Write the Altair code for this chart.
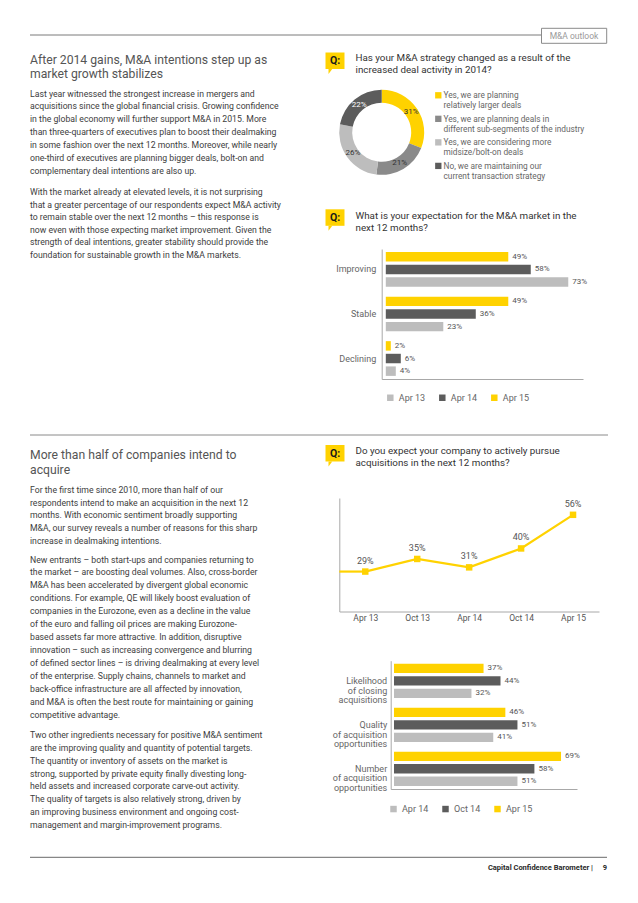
import altair as alt
import pandas as pd

W, H = 622, 887
OX, OY = 8, 8


def px(x):
    return x - OX


def py(y):
    return y - OY


FONT = "Roboto"
YELLOW = "#FFD200"
DARK = "#5C5C5C"
LIGHT = "#BDBDBD"
MID = "#8A8A8A"
AXIS = "#A8A8A8"
TEXT = "#3D3D3D"
HEAD = "#555555"

# ---------------- data ----------------
donut_answers = [
    "Yes, we are planning\nrelatively larger deals",
    "Yes, we are planning deals in\ndifferent sub-segments of the industry",
    "Yes, we are considering more\nmidsize/bolt-on deals",
    "No, we are maintaining our\ncurrent transaction strategy",
]
donut_shares = [31, 21, 26, 22]
donut_colors = [YELLOW, MID, LIGHT, DARK]

market_categories = ["Improving", "Stable", "Declining"]
market_series = ["Apr 13", "Apr 14", "Apr 15"]
market_apr13 = [73, 23, 4]
market_apr14 = [58, 36, 6]
market_apr15 = [49, 49, 2]

acq_periods = ["Apr 13", "Oct 13", "Apr 14", "Oct 14", "Apr 15"]
acq_shares = [29, 35, 31, 40, 56]

driver_categories = [
    "Likelihood\nof closing\nacquisitions",
    "Quality\nof acquisition\nopportunities",
    "Number\nof acquisition\nopportunities",
]
driver_series = ["Apr 14", "Oct 14", "Apr 15"]
driver_apr14 = [32, 41, 51]
driver_oct14 = [44, 51, 58]
driver_apr15 = [37, 46, 69]

heading_1 = ["After 2014 gains, M&A intentions step up as", "market growth stabilizes"]
para_1 = [
    "Last year witnessed the strongest increase in mergers and",
    "acquisitions since the global financial crisis. Growing confidence",
    "in the global economy will further support M&A in 2015. More",
    "than three-quarters of executives plan to boost their dealmaking",
    "in some fashion over the next 12 months. Moreover, while nearly",
    "one-third of executives are planning bigger deals, bolt-on and",
    "complementary deal intentions are also up.",
]
para_2 = [
    "With the market already at elevated levels, it is not surprising",
    "that a greater percentage of our respondents expect M&A activity",
    "to remain stable over the next 12 months \u2013 this response is",
    "now even with those expecting market improvement. Given the",
    "strength of deal intentions, greater stability should provide the",
    "foundation for sustainable growth in the M&A markets.",
]
heading_2 = ["More than half of companies intend to", "acquire"]
para_3 = [
    "For the first time since 2010, more than half of our",
    "respondents intend to make an acquisition in the next 12",
    "months. With economic sentiment broadly supporting",
    "M&A, our survey reveals a number of reasons for this sharp",
    "increase in dealmaking intentions.",
]
para_4 = [
    "New entrants \u2013 both start-ups and companies returning to",
    "the market \u2013 are boosting deal volumes. Also, cross-border",
    "M&A has been accelerated by divergent global economic",
    "conditions. For example, QE will likely boost evaluation of",
    "companies in the Eurozone, even as a decline in the value",
    "of the euro and falling oil prices are making Eurozone-",
    "based assets far more attractive. In addition, disruptive",
    "innovation \u2013 such as increasing convergence and blurring",
    "of defined sector lines \u2013 is driving dealmaking at every level",
    "of the enterprise. Supply chains, channels to market and",
    "back-office infrastructure are all affected by innovation,",
    "and M&A is often the best route for maintaining or gaining",
    "competitive advantage.",
]
para_5 = [
    "Two other ingredients necessary for positive M&A sentiment",
    "are the improving quality and quantity of potential targets.",
    "The quantity or inventory of assets on the market is",
    "strong, supported by private equity finally divesting long-",
    "held assets and increased corporate carve-out activity.",
    "The quality of targets is also relatively strong, driven by",
    "an improving business environment and ongoing cost-",
    "management and margin-improvement programs.",
]
q_1 = ["Has your M&A strategy changed as a result of the", "increased deal activity in 2014?"]
q_2 = ["What is your expectation for the M&A market in the", "next 12 months?"]
q_3 = ["Do you expect your company to actively pursue", "acquisitions in the next 12 months?"]
section_tag = "M&A outlook"
footer_title = "Capital Confidence Barometer  |"
footer_page = "9"

one = pd.DataFrame({"k": [0]})


# ---------------- helpers ----------------
def text_block(lines, x, y, size, color, lh, weight="normal", align="left", baseline="alphabetic"):
    df = pd.DataFrame({"t": ["\n".join(lines)]})
    return alt.Chart(df).mark_text(
        align=align, baseline=baseline, fontSize=size, color=color, lineBreak="\n",
        lineHeight=lh, fontWeight=weight, font=FONT,
    ).encode(x=alt.value(px(x)), y=alt.value(py(y)), text="t:N")


def hline(x0, x1, y, color, w=1.0):
    return alt.Chart(one).mark_rule(color=color, strokeWidth=w).encode(
        x=alt.value(px(x0)), x2=alt.value(px(x1)), y=alt.value(py(y))
    )


def q_box(top, lines, text_y):
    box = alt.Chart(one).mark_rect(color=YELLOW).encode(
        x=alt.value(px(325.5)), x2=alt.value(px(344.5)),
        y=alt.value(py(top)), y2=alt.value(py(top + 16.5)),
    )
    tail = alt.Chart(one).mark_point(
        shape="M-1,-1L0.5,-1L-1,1Z", filled=True, color=YELLOW, size=25, opacity=1, strokeWidth=0
    ).encode(x=alt.value(px(331)), y=alt.value(py(top + 19)))
    q = text_block(["Q:"], 335, top + 8.7, 10.5, "#1a1a1a", 12, weight="bold", align="center", baseline="middle")
    t = text_block(lines, 355.5, text_y, 9.8, "#333333", 11.8)
    return [box, tail, q, t]


def grouped_bars(cats, series, cols, colors, bar_order, xdom, xr, yr, axis_x, axis_y,
                 label_pad, label_lh, legend_x, legend_y):
    rows = []
    for s, vals in zip(series, cols):
        for c, v in zip(cats, vals):
            rows.append({"cat": c, "series": s, "value": v, "label": f"{v}%"})
    df = pd.DataFrame(rows)
    y = alt.Y(
        "cat:N", sort=cats,
        scale=alt.Scale(domain=cats, range=[py(yr[0]), py(yr[1])], paddingInner=0.22, paddingOuter=0.07),
        axis=alt.Axis(orient="left", offset=-px(axis_x), domainColor=AXIS, ticks=False,
                      labelPadding=label_pad, labelFont=FONT, labelFontSize=9, labelColor="#666666",
                      labelExpr="split(datum.label, '\\n')", labelLineHeight=label_lh,
                      title=None, grid=False),
    )
    yo = alt.YOffset("series:N", scale=alt.Scale(domain=bar_order, paddingInner=0.25, paddingOuter=0))
    x = alt.X(
        "value:Q",
        scale=alt.Scale(domain=xdom, range=[px(xr[0]), px(xr[1])], nice=False, zero=False),
        axis=alt.Axis(orient="bottom", offset=py(axis_y) - H, labels=False, ticks=False, grid=False,
                      domainColor=AXIS, title=None),
    )
    color = alt.Color(
        "series:N",
        scale=alt.Scale(domain=series, range=colors),
        legend=alt.Legend(orient="none", legendX=px(legend_x), legendY=py(legend_y), direction="horizontal",
                          title=None, symbolType="square", symbolSize=42, symbolStrokeWidth=0,
                          labelFont=FONT, labelFontSize=9, labelColor="#666666", columnPadding=12,
                          labelOffset=4, padding=0),
    )
    bars = alt.Chart(df).mark_bar(cornerRadius=0).encode(x=x, x2=alt.datum(0), y=y, yOffset=yo, color=color)
    labels = alt.Chart(df).mark_text(
        align="left", baseline="middle", dx=4, fontSize=8, color="#555555", font=FONT
    ).encode(x=x, y=y, yOffset=yo, text="label:N")
    return alt.layer(bars, labels)


# ---------------- page furniture ----------------
layers = []
layers.append(hline(30, 541.5, 35, "#7a7a7a"))
layers.append(
    alt.Chart(one).mark_rect(fill="white", stroke="#8a8a8a", strokeWidth=1).encode(
        x=alt.value(px(541.5)), x2=alt.value(px(606.7)), y=alt.value(py(28.3)), y2=alt.value(py(43.3))
    )
)
layers.append(text_block([section_tag], 574, 36, 8.5, "#9a9a9a", 10, align="center", baseline="middle"))
layers.append(hline(30, 608, 435, "#8a8a8a"))
layers.append(hline(30, 607, 857.3, "#6a6a6a"))
layers.append(text_block([footer_title], 593, 870, 7.5, "#2a2a2a", 9, weight="bold", align="right"))
layers.append(text_block([footer_page], 607, 870, 7.5, "#2a2a2a", 9, weight="bold", align="right"))

# left column text
layers.append(text_block(heading_1, 30, 63.6, 12.2, HEAD, 14))
layers.append(text_block(para_1, 30, 96.5, 8.7, TEXT, 12.9))
layers.append(text_block(para_2, 30, 194.9, 8.7, TEXT, 12.65))
layers.append(text_block(heading_2, 30, 459.3, 12.2, HEAD, 15))
layers.append(text_block(para_3, 30, 493.2, 8.7, TEXT, 12.6))
layers.append(text_block(para_4, 30, 562.5, 8.7, TEXT, 12.95))
layers.append(text_block(para_5, 30, 738.2, 8.7, TEXT, 12.8))

# question boxes
layers += q_box(52.5, q_1, 60.8)
layers += q_box(209.3, q_2, 219.2)
layers += q_box(445, q_3, 454.2)

# ---------------- donut ----------------
ddf = pd.DataFrame({"answer": donut_answers, "share": donut_shares, "idx": list(range(len(donut_answers)))})
ddf["label"] = ddf["share"].astype(str) + "%"
dcolor = alt.Color("answer:N", scale=alt.Scale(domain=donut_answers, range=donut_colors), legend=None)
cx, cy = px(381.7), py(132.3)
arcs = alt.Chart(ddf).mark_arc(innerRadius=29.5, outerRadius=42.5, stroke=None).encode(
    theta=alt.Theta("share:Q", stack=True), order=alt.Order("idx:Q"), color=dcolor,
    x=alt.value(cx), y=alt.value(cy),
)
arc_labels = alt.Chart(ddf).mark_text(radius=35.5, fontSize=8, font=FONT, baseline="middle").encode(
    theta=alt.Theta("share:Q", stack=True), order=alt.Order("idx:Q"), text="label:N",
    color=alt.condition(f"datum.idx == {len(donut_answers) - 1}", alt.value("white"), alt.value("#333333")),
    x=alt.value(cx), y=alt.value(cy),
)
ly_legend = alt.Y("answer:N", sort=donut_answers,
                  scale=alt.Scale(type="point", domain=donut_answers, range=[py(95.3), py(165.9)], padding=0),
                  axis=None)
leg_sq = alt.Chart(ddf).mark_square(size=40, opacity=1).encode(
    x=alt.value(px(438.3)), y=ly_legend, color=dcolor
)
leg_tx = alt.Chart(ddf).mark_text(align="left", baseline="alphabetic", dy=3, fontSize=8.3, font=FONT,
                                  color="#666666", lineBreak="\n", lineHeight=10).encode(
    x=alt.value(px(443.5)), y=ly_legend, text="answer:N"
)
donut = alt.layer(arcs, arc_labels, leg_sq, leg_tx)

# ---------------- bar chart 1 ----------------
bars1 = grouped_bars(
    market_categories, market_series, [market_apr13, market_apr14, market_apr15],
    [LIGHT, DARK, YELLOW], ["Apr 15", "Apr 14", "Apr 13"],
    xdom=[-1.64, 78.9], xr=[381.7, 583], yr=[249, 379], axis_x=381.7, axis_y=379,
    label_pad=6, label_lh=10, legend_x=385.8, legend_y=393,
)

# ---------------- line chart ----------------
ldf = pd.DataFrame({"period": acq_periods, "share": acq_shares})
ldf["label"] = ldf["share"].astype(str) + "%"
lx = alt.X("period:N", sort=acq_periods,
           scale=alt.Scale(type="point", domain=acq_periods, range=[px(339.3), px(599)], padding=0.5),
           axis=alt.Axis(orient="bottom", offset=py(611.5) - H, ticks=False, labelPadding=2, labelFont=FONT,
                         labelFontSize=8.5, labelColor="#555555", labelAngle=0, domainColor=AXIS,
                         title=None, grid=False))
lyy = alt.Y("share:Q", scale=alt.Scale(domain=[10, 64], range=[py(611.5), py(498)], nice=False, zero=False),
            axis=alt.Axis(orient="left", offset=-px(339.3), labels=False, ticks=False, grid=False,
                          domainColor=AXIS, title=None))
lead = alt.Chart(ldf).transform_filter(alt.datum.period == acq_periods[0]).mark_rule(
    color=YELLOW, strokeWidth=2.2).encode(x=lx, x2=alt.value(px(339.3)), y=lyy)
line = alt.Chart(ldf).mark_line(color=YELLOW, strokeWidth=2.2).encode(x=lx, y=lyy)
pts = alt.Chart(ldf).mark_square(color=YELLOW, size=42, opacity=1).encode(x=lx, y=lyy)
ptl = alt.Chart(ldf).mark_text(dy=-11, fontSize=9, font=FONT, color="#555555").encode(x=lx, y=lyy, text="label:N")
linechart = alt.layer(lead, line, pts, ptl)

# ---------------- bar chart 2 ----------------
bars2 = grouped_bars(
    driver_categories, driver_series, [driver_apr14, driver_oct14, driver_apr15],
    [LIGHT, DARK, YELLOW], ["Apr 15", "Oct 14", "Apr 14"],
    xdom=[-1.36, 75.6], xr=[390.7, 577], yr=[660.7, 789], axis_x=390.7, axis_y=789,
    label_pad=4, label_lh=9.7, legend_x=389, legend_y=804.3,
)

layers += [donut, bars1, linechart, bars2]

chart = alt.layer(*layers).resolve_scale(
    x="independent", y="independent", color="independent", theta="independent", yOffset="independent"
).resolve_axis(x="independent", y="independent").resolve_legend(color="independent").properties(
    width=W, height=H, padding=0, autosize=alt.AutoSizeParams(type="none")
).configure_view(strokeWidth=0).configure_axis(labelFont=FONT).configure_legend(labelFont=FONT)

chart.save("out.html", embed_options={"renderer": "svg", "actions": False})
